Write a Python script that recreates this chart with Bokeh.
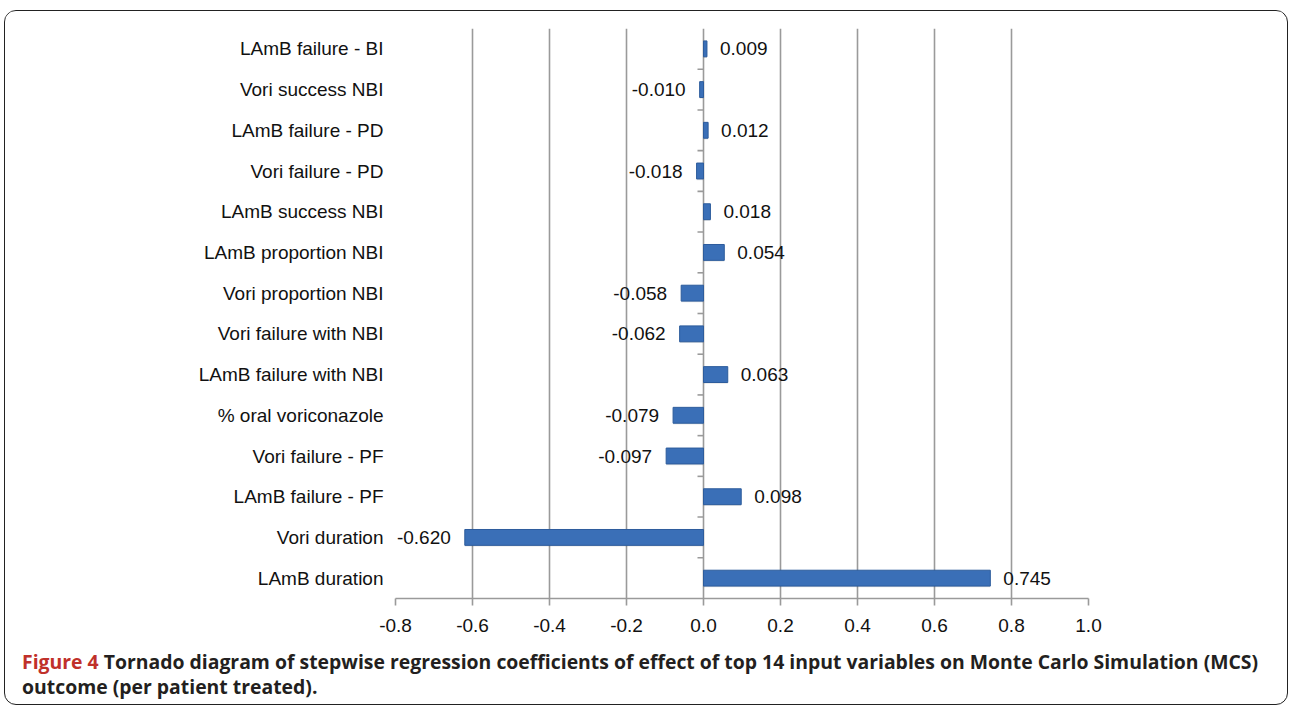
from bokeh.plotting import figure
from bokeh.models import Range1d, FixedTicker, Div, ColumnDataSource
from bokeh.layouts import column
from bokeh.core.properties import value
from bokeh.embed import file_html
from bokeh.resources import INLINE

# ---- data (top to bottom as in the chart) ----
categories = [
    "LAmB failure - BI",
    "Vori success NBI",
    "LAmB failure - PD",
    "Vori failure - PD",
    "LAmB success NBI",
    "LAmB proportion NBI",
    "Vori proportion NBI",
    "Vori failure with NBI",
    "LAmB failure with NBI",
    "% oral voriconazole",
    "Vori failure - PF",
    "LAmB failure - PF",
    "Vori duration",
    "LAmB duration",
]
coefficients = [0.009, -0.010, 0.012, -0.018, 0.018, 0.054, -0.058, -0.062,
                0.063, -0.079, -0.097, 0.098, -0.620, 0.745]
x_ticks = [-0.8, -0.6, -0.4, -0.2, 0.0, 0.2, 0.4, 0.6, 0.8, 1.0]

FONT = "Liberation Sans"
FS = "19px"
n = len(categories)
ypos = [n - 0.5 - i for i in range(n)]
boundaries = [float(k) for k in range(1, n)]

FIG_W, FIG_H = 1278, 637
BL, BR, BT, BB = 390, 195, 17, 50
frame_w = FIG_W - BL - BR
tick_len = 6 * (x_ticks[-1] - x_ticks[0]) / frame_w

src = ColumnDataSource(dict(y=ypos, v=coefficients))
pos = ColumnDataSource(dict(
    y=[y for y, c in zip(ypos, coefficients) if c >= 0],
    v=[c for c in coefficients if c >= 0],
    lab=["%.3f" % c for c in coefficients if c >= 0]))
neg = ColumnDataSource(dict(
    y=[y for y, c in zip(ypos, coefficients) if c < 0],
    v=[c for c in coefficients if c < 0],
    lab=["%.3f" % c for c in coefficients if c < 0]))

p = figure(width=FIG_W, height=FIG_H, output_backend="svg", toolbar_location=None,
           x_range=Range1d(x_ticks[0], x_ticks[-1]), y_range=Range1d(0, n),
           min_border_left=BL, min_border_right=BR, min_border_top=BT,
           min_border_bottom=BB)
p.outline_line_color = None
p.background_fill_color = "white"
p.border_fill_color = "white"

# grid
p.ygrid.grid_line_color = None
p.xgrid.ticker = FixedTicker(ticks=x_ticks)
p.xgrid.grid_line_color = "#9a9a9a"
p.xgrid.grid_line_width = 1.6

# x axis
p.xaxis.ticker = FixedTicker(ticks=x_ticks)
p.xaxis.major_label_overrides = {t: "%.1f" % t for t in x_ticks}
p.xaxis.axis_line_color = "#9a9a9a"
p.xaxis.axis_line_width = 1.6
p.xaxis.major_tick_line_color = "#9a9a9a"
p.xaxis.major_tick_line_width = 1.6
p.xaxis.major_tick_out = 7
p.xaxis.major_tick_in = 0
p.xaxis.minor_tick_line_color = None
p.xaxis.major_label_text_font = FONT
p.xaxis.major_label_text_font_size = FS
p.xaxis.major_label_text_color = "#111111"
p.xaxis.major_label_standoff = 13

# y axis with category labels
p.yaxis.ticker = FixedTicker(ticks=ypos)
p.yaxis.major_label_overrides = {y: c for y, c in zip(ypos, categories)}
p.yaxis.axis_line_color = None
p.yaxis.major_tick_line_color = None
p.yaxis.minor_tick_line_color = None
p.yaxis.major_label_text_font = FONT
p.yaxis.major_label_text_font_size = FS
p.yaxis.major_label_text_color = "#111111"
p.yaxis.major_label_standoff = 6

# small ticks on the zero line between categories
p.segment(x0=0, x1=-tick_len, y0=boundaries, y1=boundaries,
          line_color="#9a9a9a", line_width=1.6)

# bars (soft shadow + bar)
p.hbar(y=[y - 0.03 for y in ypos], left=0, right=coefficients, height=0.39,
       fill_color="#000000", fill_alpha=0.10, line_color=None)
p.hbar(y="y", left=0, right="v", height=0.39, source=src,
       fill_color="#3A6FB7", line_color="#2D5C9C", line_width=1)

# value labels
p.text(x="v", y="y", text="lab", source=pos, x_offset=13,
       text_align="left", text_baseline="middle",
       text_font=value(FONT), text_font_size=FS, text_color="#111111")
p.text(x="v", y="y", text="lab", source=neg, x_offset=-14,
       text_align="right", text_baseline="middle",
       text_font=value(FONT), text_font_size=FS, text_color="#111111")

caption = Div(
    text=('<span style="color:#C0302A">Figure 4</span> Tornado diagram of stepwise '
          'regression coefficients of effect of top 14 input variables on Monte '
          'Carlo Simulation (MCS) outcome (per patient treated).'),
    width=1272,
    styles={"font-family": "'Open Sans', sans-serif",
            "font-weight": "bold", "font-size": "19.4px", "line-height": "25px",
            "color": "#231F20", "padding-left": "12px", "margin-top": "1px"})

layout = column(p, caption, styles={"border": "1.5px solid #222",
                                    "border-radius": "12px",
                                    "margin-left": "4px", "margin-top": "10px",
                                    "overflow": "hidden"})

open("out.html", "w").write(file_html(layout, INLINE))
